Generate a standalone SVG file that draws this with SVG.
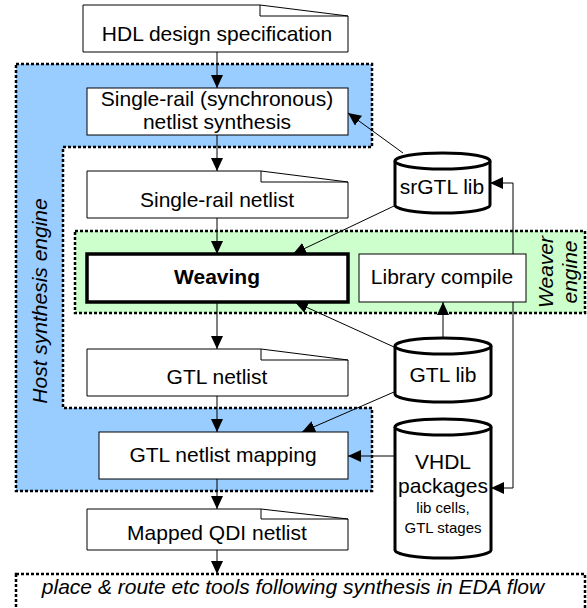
<svg xmlns="http://www.w3.org/2000/svg" width="587" height="608" viewBox="0 0 587 608">
<defs>
<style>
text{font-family:"Liberation Sans",Arial,sans-serif;font-size:21px;fill:#000;text-anchor:middle}
.it{font-style:italic}
.b{font-weight:bold}
.sm{font-size:15px}
.box{fill:#fff;stroke:#000;stroke-width:1}
.fold{fill:none;stroke:#000;stroke-width:1}
.cyl{fill:#fff;stroke:#000;stroke-width:3}
.reg{stroke:#000;stroke-width:2.5;stroke-dasharray:3 2}
.con{fill:none;stroke:#000;stroke-width:1;marker-end:url(#ah)}
</style>
<marker id="ah" markerUnits="userSpaceOnUse" markerWidth="14" markerHeight="12" refX="13" refY="6" orient="auto-start-reverse">
<path d="M0,0 L13,6 L0,12 Z" fill="#000"/>
</marker>
</defs>

<g id="host-engine">
<path class="reg" fill="#99ccff" d="M16,64 H372 V147 H63 V408 H372 V491 H16 Z"/>
<text class="it" transform="translate(47,301) rotate(-90)">Host synthesis engine</text>
</g>

<g id="weaver-engine">
<rect class="reg" fill="#ccffcc" x="75" y="231" width="510" height="82"/>
<text class="it" transform="translate(553,272) rotate(-90)">Weaver</text>
<text class="it" transform="translate(577,272) rotate(-90)">engine</text>
</g>

<g id="pnr">
<rect class="reg" fill="#fff" x="16" y="574" width="569" height="40"/>
<text class="it" x="293" y="594" font-size="20.5">place &amp; route etc tools following synthesis in EDA flow</text>
</g>

<g id="connectors">
<path class="con" d="M217,52 V88"/>
<path class="con" d="M217,135 V171"/>
<path class="con" d="M217,218 V254"/>
<path class="con" d="M217,302 V349"/>
<path class="con" d="M217,396 V432"/>
<path class="con" d="M217,479 V509"/>
<path class="con" d="M217,550 V574"/>
<path class="con" d="M403,153 L348,113"/>
<path class="con" d="M394,206 L293,254"/>
<path class="con" d="M394,347 L295,302"/>
<path class="con" d="M443,348 V302"/>
<path class="con" d="M394,392 L302,432"/>
<path class="con" d="M395,456 H348"/>
<path class="con" style="marker-start:url(#ah)" d="M490,183 H513 V488 H491"/>
</g>

<g id="hdl-spec">
<path class="box" d="M83,5 H260 L348,16 V52 H83 Z"/>
<path class="fold" d="M260,5 V16 H348"/>
<text x="217" y="41">HDL design specification</text>
</g>

<g id="sr-synthesis">
<rect class="box" x="87" y="88" width="261" height="47"/>
<text x="217" y="106">Single-rail (synchronous)</text>
<text x="217" y="129">netlist synthesis</text>
</g>

<g id="sr-netlist">
<path class="box" d="M87,171 H261 L348,182 V218 H87 Z"/>
<path class="fold" d="M261,171 V182 H348"/>
<text x="217" y="207">Single-rail netlist</text>
</g>

<g id="weaving">
<rect x="87" y="254" width="261" height="48" fill="#fff" stroke="#000" stroke-width="3.5"/>
<text class="b" x="217" y="284">Weaving</text>
</g>

<g id="library-compile">
<rect class="box" x="359" y="254" width="167" height="48"/>
<text x="442" y="284">Library compile</text>
</g>

<g id="gtl-netlist">
<path class="box" d="M87,349 H261 L348,360 V396 H87 Z"/>
<path class="fold" d="M261,349 V360 H348"/>
<text x="217" y="384">GTL netlist</text>
</g>

<g id="gtl-mapping">
<rect class="box" x="99" y="432" width="249" height="47"/>
<text x="223" y="462">GTL netlist mapping</text>
</g>

<g id="mapped-qdi">
<path class="box" d="M87,509 H261 L348,519 V550 H87 Z"/>
<path class="fold" d="M261,509 V519 H348"/>
<text x="217" y="540">Mapped QDI netlist</text>
</g>

<g id="srgtl-lib">
<path class="cyl" d="M395,161 A47.5,8 0 0 1 490,161 V205 A47.5,8 0 0 1 395,205 Z"/>
<path class="cyl" fill="none" d="M395,161 A47.5,8 0 0 0 490,161"/>
<text x="442" y="194">srGTL lib</text>
</g>

<g id="gtl-lib">
<path class="cyl" d="M395,346 A48,8 0 0 1 491,346 V394 A48,8 0 0 1 395,394 Z"/>
<path class="cyl" fill="none" d="M395,346 A48,8 0 0 0 491,346"/>
<text x="443" y="382">GTL lib</text>
</g>

<g id="vhdl-packages">
<path class="cyl" d="M395,427 A48,8 0 0 1 491,427 V550 A48,8 0 0 1 395,550 Z"/>
<path class="cyl" fill="none" d="M395,427 A48,8 0 0 0 491,427"/>
<text x="443" y="469">VHDL</text>
<text x="443" y="493">packages</text>
<text class="sm" x="443" y="513">lib cells,</text>
<text class="sm" x="443" y="533">GTL stages</text>
</g>
</svg>
